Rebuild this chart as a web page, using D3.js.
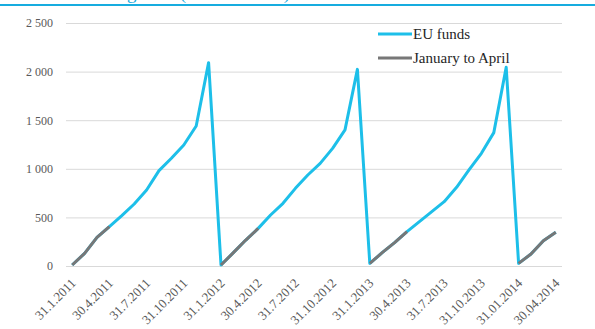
<!DOCTYPE html>
<html>
<head>
<meta charset="utf-8">
<script src="https://cdn.jsdelivr.net/npm/d3@7"></script>
<style>
  body { margin: 0; background: #fff; }
  svg { display: block; }
</style>
</head>
<body>
<div class="chart"></div>
<script>
const width = 595;
const height = 329;

// month-end dates, Jan 2011 .. Apr 2014
const categories = [
    "31.1.2011", "28.2.2011", "31.3.2011", "30.4.2011", "31.5.2011", "30.6.2011",
    "31.7.2011", "31.8.2011", "30.9.2011", "31.10.2011", "30.11.2011", "31.12.2011",
    "31.1.2012", "29.2.2012", "31.3.2012", "30.4.2012", "31.5.2012", "30.6.2012",
    "31.7.2012", "31.8.2012", "30.9.2012", "31.10.2012", "30.11.2012", "31.12.2012",
    "31.1.2013", "28.2.2013", "31.3.2013", "30.4.2013", "31.5.2013", "30.6.2013",
    "31.7.2013", "31.8.2013", "30.9.2013", "31.10.2013", "30.11.2013", "31.12.2013",
    "31.01.2014", "28.02.2014", "31.03.2014", "30.04.2014"
];

const euFunds = [
    10, 130, 295, 405, 518, 638, 782, 981, 1108, 1245, 1440, 2092,
    10, 137, 267, 387, 525, 645, 799, 936, 1056, 1210, 1400, 2023,
    27, 137, 240, 353, 456, 559, 662, 810, 988, 1159, 1372, 2044,
    27, 123, 260, 347
];

const janToApril = [
    10, 130, 295, 405, null, null, null, null, null, null, null, null,
    10, 137, 267, 387, null, null, null, null, null, null, null, null,
    27, 137, 240, 353, null, null, null, null, null, null, null, null,
    27, 123, 260, 347
];

const yTicks = [0, 500, 1000, 1500, 2000, 2500];
const seriesNames = ["EU funds", "January to April"];
const colors = ["#1dbfe9", "#777777"];

const plot = { left: 66, right: 562, top: 23, bottom: 266 };
const font = "'Liberation Serif', serif";

const locale = d3.formatLocale({ decimal: ",", thousands: "\u00a0", grouping: [3], currency: ["", ""] });
const format = locale.format(",d");

const svg = d3.select(".chart")
    .append("svg")
    .attr("width", width)
    .attr("height", height)
    .style("font-family", font);

// title rule with the clipped heading above it
svg.append("text")
    .attr("x", 70)
    .attr("y", -1)
    .attr("fill", "#17a9dd")
    .attr("font-size", 19)
    .text("Drawing total (EUR million)");
svg.append("rect")
    .attr("x", 0)
    .attr("y", 4)
    .attr("width", width)
    .attr("height", 2)
    .attr("fill", "#17acdf");

const x = d3.scalePoint()
    .domain(categories)
    .range([plot.left, plot.right])
    .padding(0.5);

const y = d3.scaleLinear()
    .domain([0, 2500])
    .range([plot.bottom, plot.top]);

const gYAxis = svg.append("g")
    .attr("transform", `translate(${plot.left}, 0)`);
gYAxis.call(d3.axisLeft(y)
    .tickValues(yTicks)
    .tickSize(-(plot.right - plot.left))
    .tickPadding(13)
    .tickFormat(format));
gYAxis.attr("font-family", font);
gYAxis.select(".domain").remove();
gYAxis.selectAll(".tick line").attr("stroke", "#d9d9d9");
gYAxis.selectAll("text")
    .attr("fill", "#595959")
    .style("font-size", "12px");

const gXAxis = svg.append("g")
    .attr("transform", `translate(0, ${plot.bottom})`);
gXAxis.call(d3.axisBottom(x)
    .tickValues(categories.filter((d, i) => i % 3 === 0))
    .tickSize(0));
gXAxis.attr("font-family", font);
gXAxis.select(".domain").remove();
gXAxis.selectAll("text")
    .attr("fill", "#595959")
    .style("font-size", "13px")
    .style("text-anchor", "end")
    .attr("y", 0)
    .attr("dy", 0)
    .attr("transform", "translate(4, 18) rotate(-45)");

const line = d3.line()
    .defined(d => d != null)
    .x((d, i) => x(categories[i]))
    .y(d => y(d));

[euFunds, janToApril].forEach((values, k) => {
    svg.append("path")
        .attr("fill", "none")
        .attr("stroke", colors[k])
        .attr("stroke-width", 3)
        .attr("stroke-linejoin", "round")
        .attr("d", line(values));
});

// legend
const legend = svg.append("g");
seriesNames.forEach((name, k) => {
    const ly = 34 + k * 24;
    legend.append("line")
        .attr("x1", 378)
        .attr("x2", 412)
        .attr("y1", ly)
        .attr("y2", ly)
        .attr("stroke", colors[k])
        .attr("stroke-width", 3);
    legend.append("text")
        .attr("x", 413)
        .attr("y", ly + 5)
        .attr("fill", "#262626")
        .style("font-size", "15px")
        .text(name);
});
</script>
</body>
</html>
